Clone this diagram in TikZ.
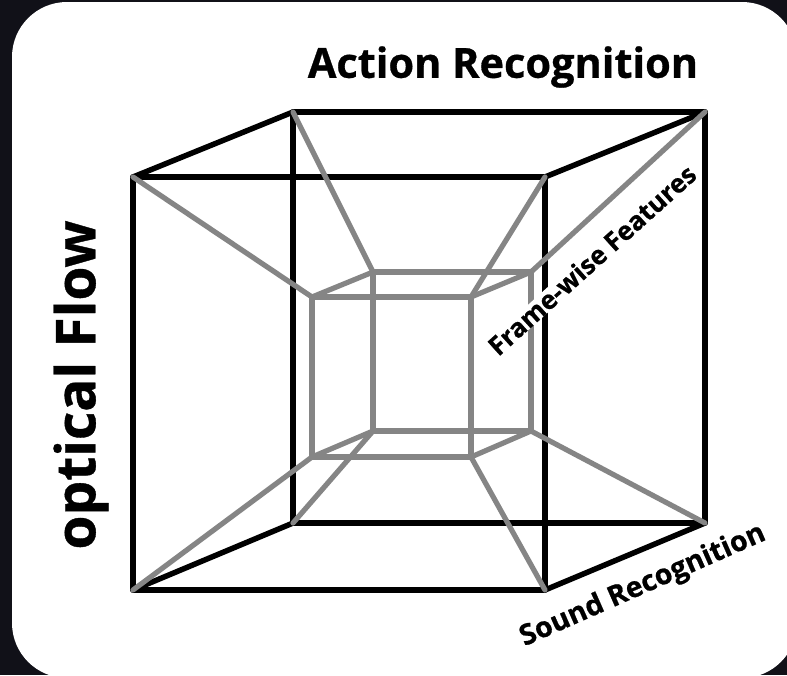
\documentclass[tikz,border=0pt]{standalone}
\usepackage{fontspec}
\setmainfont{Open Sans}[BoldFeatures={FakeBold=0.7}]
\definecolor{bgdark}{HTML}{111118}
\definecolor{innergray}{HTML}{858585}
\tikzset{
  outer/.style={draw=black,line width=5.5pt,line cap=round,line join=round},
  inner/.style={draw=innergray,line width=5.2pt,line cap=round,line join=round},
  lbl/.style={font=\bfseries,inner sep=0pt,text=black}
}
\begin{document}
\begin{tikzpicture}[x=1pt,y=-1pt]
\useasboundingbox (0,0) rectangle (787,675);
\fill[bgdark] (0,0) rectangle (787,675);
\begin{scope}
\clip (0,0) rectangle (787,675);
\fill[white,rounded corners=55pt] (12,2) rectangle (797,678);
\end{scope}
\foreach \n/\x/\y in {fa/133/177,fb/545/177,fc/545/590,fd/133/590,
  ba/293/112,bb/705/112,bc/705/523,bd/293/523,
  ia/312/297,ib/471/297,ic/471/457,id/312/457,
  ja/373/272,jb/531/272,jc/531/431,jd/373/431}
  \coordinate (\n) at (\x,\y);
% outer cube
\draw[outer] (ba)--(bb)--(bc)--(bd)--cycle;
\draw[outer] (fa)--(fb)--(fc)--(fd)--cycle;
\draw[outer] (fa)--(ba) (fb)--(bb) (fc)--(bc) (fd)--(bd);
% spokes
\draw[inner] (fa)--(ia) (fb)--(ib) (fc)--(ic) (fd)--(id);
\draw[inner] (ba)--(ja) (bb)--(jb) (bc)--(jc) (bd)--(jd);
% inner cube
\draw[inner] (ja)--(jb)--(jc)--(jd)--cycle;
\draw[inner] (ia)--(ib)--(ic)--(id)--cycle;
\draw[inner] (ia)--(ja) (ib)--(jb) (ic)--(jc) (id)--(jd);
% labels
\node[lbl,font=\bfseries\fontsize{41.5}{41.5}\selectfont] (t1) at (503,67) {Action Recognition};
\node[lbl,rotate=90,font=\bfseries\fontsize{55}{55}\selectfont] (t2) at (81,385) {optical Flow};
\node[lbl,rotate=23.8,font=\bfseries\fontsize{28.5}{28.5}\selectfont] (t3) at (643,586) {Sound Recognition};
\node[lbl,rotate=42,fill=white,text height=19pt,text depth=0pt,font=\bfseries\fontsize{26}{26}\selectfont] (t4) at (592,260) {Frame-wise Features};
\end{tikzpicture}
\end{document}
